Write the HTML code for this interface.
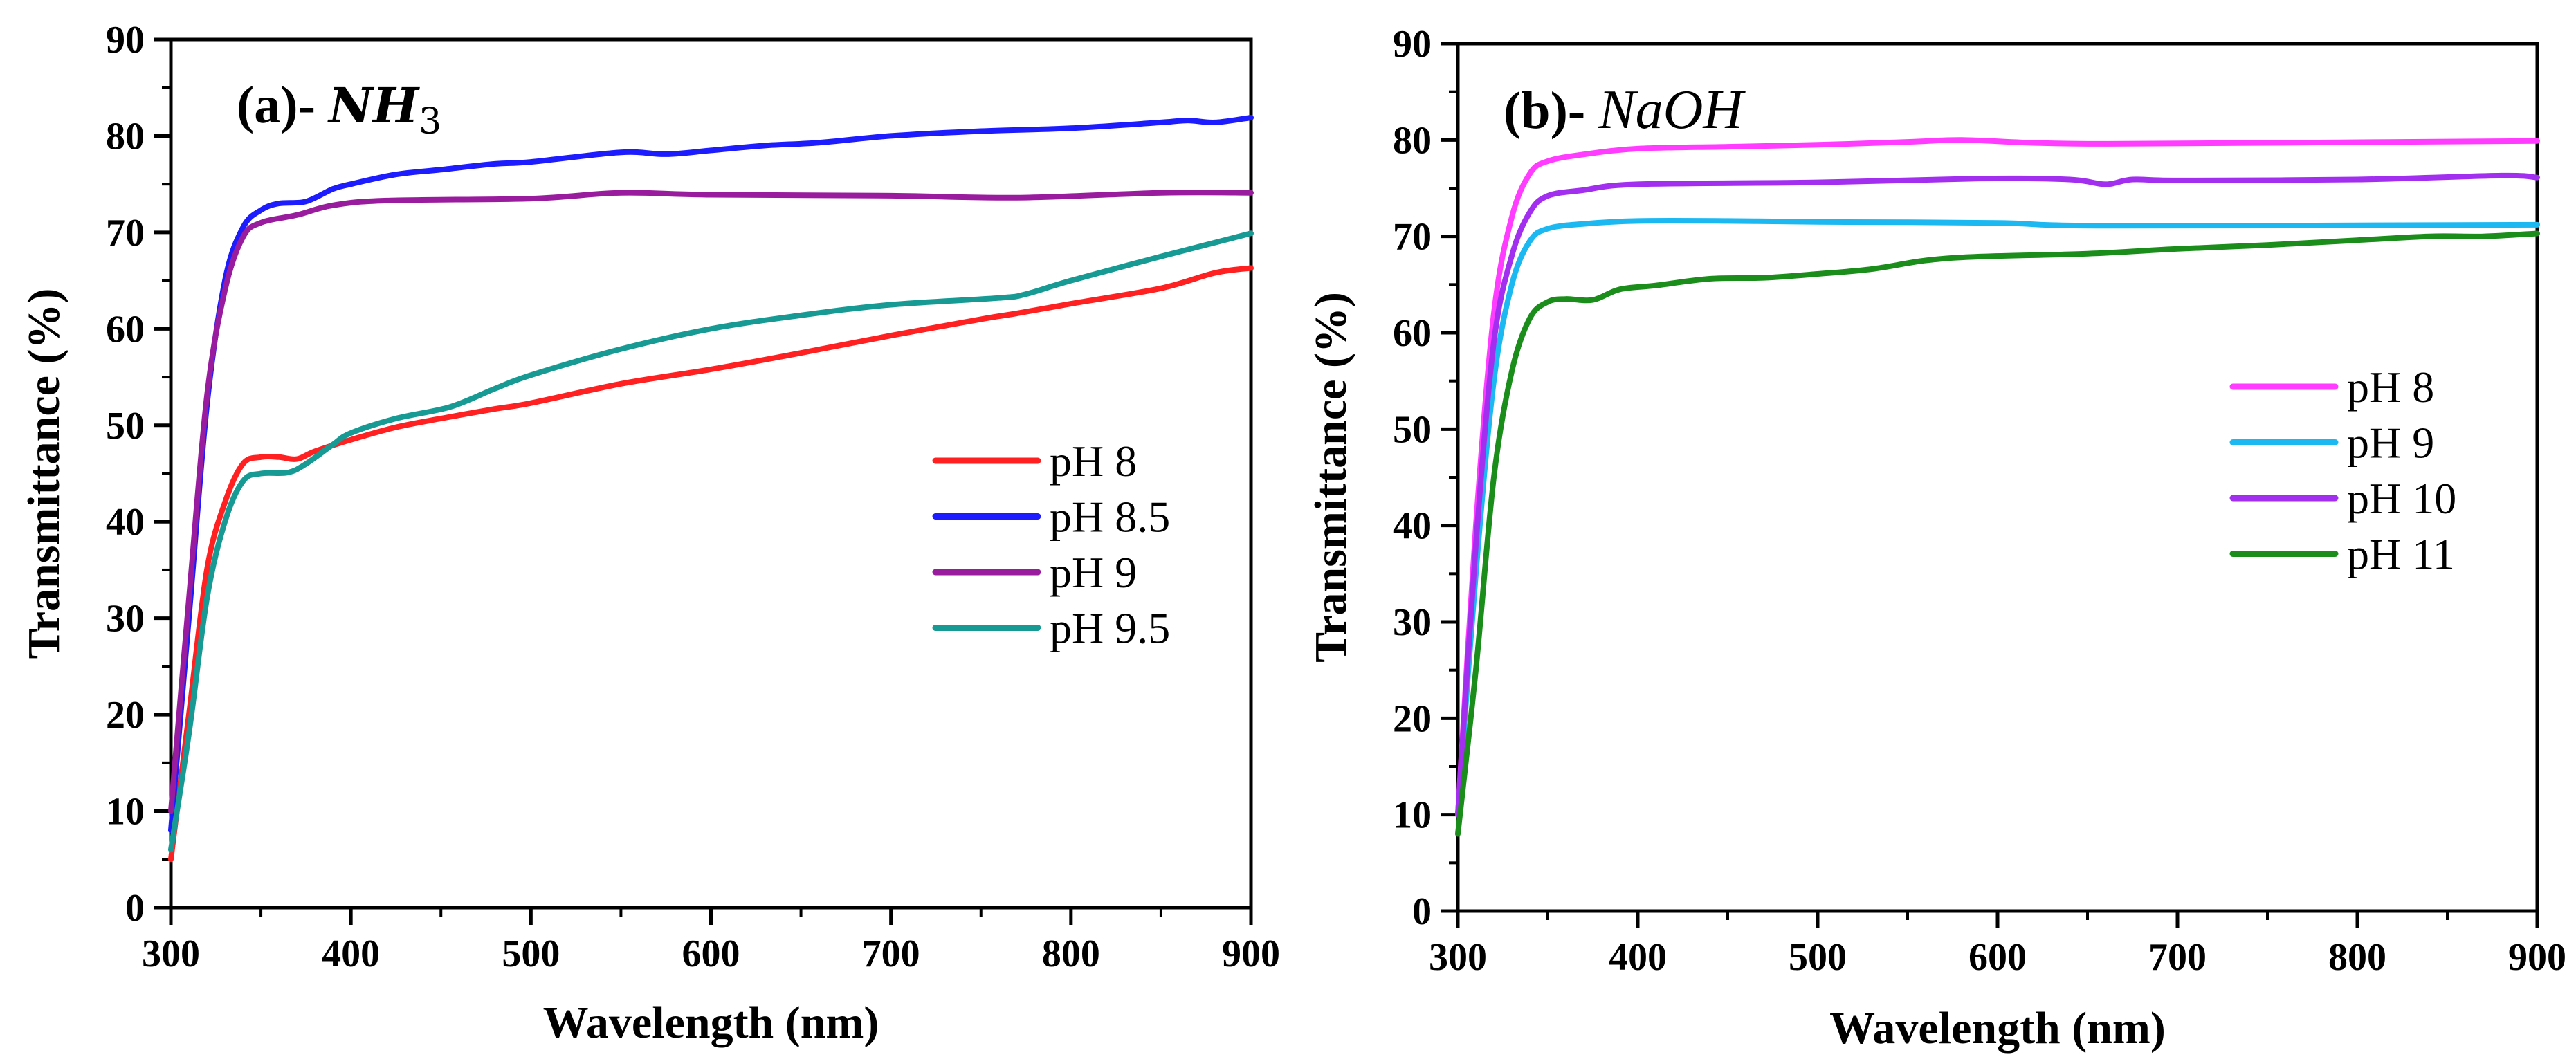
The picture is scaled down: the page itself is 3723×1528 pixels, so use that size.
<!DOCTYPE html>
<html><head><meta charset="utf-8">
<style>
html,body{margin:0;padding:0;background:#fff;}
svg{display:block;}
text{font-family:"Liberation Serif",serif;fill:#000;}
</style></head>
<body>
<svg id="fig" width="3723" height="1528" viewBox="0 0 3723 1528" xmlns="http://www.w3.org/2000/svg"></svg>
<script>
// ----- data: panel (a) NH3 -----
const aWavelength8 = [300,310,320,330,340,350,360,370,380,400,425,450,480,500,550,600,650,700,750,770,800,850,880,900];
const aPH8 = [5,20,35,42,46,46.7,46.7,46.5,47.3,48.5,49.8,50.7,51.7,52.3,54.3,55.8,57.5,59.3,61,61.6,62.6,64.2,65.8,66.3];
const aWavelength85 = [300,310,320,330,340,350,360,375,390,400,425,450,480,500,550,575,600,630,660,700,750,800,850,865,880,900];
const aPH85 = [8,30,52,65,70.5,72.3,73,73.2,74.5,75,76,76.5,77.1,77.3,78.3,78.1,78.5,79,79.3,80,80.5,80.8,81.4,81.6,81.4,81.9];
const aWavelength9 = [300,310,320,330,340,350,370,390,420,500,550,600,700,770,850,900];
const aPH9 = [10,32,53,64,69.5,71,71.8,72.8,73.3,73.5,74.1,73.9,73.8,73.6,74.1,74.1];
const aWavelength95 = [300,310,320,330,340,350,365,375,390,400,425,455,480,500,550,600,650,700,760,775,800,850,900];
const aPH95 = [6,18,32,40,44.2,45,45.1,46,48,49.2,50.7,51.9,53.8,55.2,57.9,60,61.4,62.5,63.2,63.6,65,67.5,69.9];
// ----- data: panel (b) NaOH -----
const bWavelength8 = [300,310,320,330,340,350,370,400,450,500,550,580,620,660,750,900];
const bPH8 = [10,40,62,72,76.5,77.8,78.5,79.1,79.3,79.5,79.8,80,79.7,79.6,79.7,79.9];
const bWavelength9 = [300,310,320,330,340,350,370,400,450,500,600,660,900];
const bPH9 = [10,35,55,65,69.5,70.8,71.3,71.6,71.6,71.5,71.4,71.1,71.2];
const bWavelength10 = [300,310,320,330,340,350,370,400,500,590,640,660,675,700,800,880,900];
const bPH10 = [10,38,59,68,72.5,74.2,74.8,75.4,75.6,76,75.9,75.4,75.9,75.8,75.9,76.3,76.1];
const bWavelength11 = [300,310,320,330,340,350,360,375,390,410,440,470,500,530,560,590,650,700,750,800,840,870,900];
const bPH11 = [8,25,45,56,61.5,63.2,63.5,63.4,64.5,64.9,65.6,65.7,66.1,66.6,67.5,67.9,68.2,68.7,69.1,69.6,70,70,70.3];
const xTicks = [300,400,500,600,700,800,900];
const yTicks = [0,10,20,30,40,50,60,70,80,90];
const aLabels = ["pH 8","pH 8.5","pH 9","pH 9.5"];
const bLabels = ["pH 8","pH 9","pH 10","pH 11"];

const NS = "http://www.w3.org/2000/svg";
const svg = document.getElementById("fig");
function mk(tag, attrs, parent){
  const e = document.createElementNS(NS, tag);
  for (const k in attrs) e.setAttribute(k, attrs[k]);
  (parent||svg).appendChild(e);
  return e;
}
function smoothPath(pts){
  let d = "M" + pts[0][0].toFixed(1) + "," + pts[0][1].toFixed(1);
  for (let i = 0; i < pts.length-1; i++){
    const p0 = pts[Math.max(0,i-1)], p1 = pts[i], p2 = pts[i+1], p3 = pts[Math.min(pts.length-1,i+2)];
    const c1x = p1[0] + (p2[0]-p0[0])/6, c1y = p1[1] + (p2[1]-p0[1])/6;
    const c2x = p2[0] - (p3[0]-p1[0])/6, c2y = p2[1] - (p3[1]-p1[1])/6;
    d += "C" + c1x.toFixed(1) + "," + c1y.toFixed(1) + " " + c2x.toFixed(1) + "," + c2y.toFixed(1) + " " + p2[0].toFixed(1) + "," + p2[1].toFixed(1);
  }
  return d;
}
function panel(cfg){
  const g = mk("g", {});
  
  
  const X = v => cfg.x0 + (v-300)/(600)*(cfg.x1-cfg.x0);
  const Y = v => cfg.y0 - v/90*(cfg.y0-cfg.y1);
  const fr = mk("rect", {x:cfg.x0, y:cfg.y1, width:cfg.x1-cfg.x0, height:cfg.y0-cfg.y1, fill:"none", stroke:"#000", "stroke-width":5}, g);
  
  
  xTicks.forEach(t => {
    mk("line", {x1:X(t), x2:X(t), y1:cfg.y0, y2:cfg.y0+25, stroke:"#000", "stroke-width":5}, g);
    if (t < 900) mk("line", {x1:X(t+50), x2:X(t+50), y1:cfg.y0, y2:cfg.y0+13, stroke:"#000", "stroke-width":4}, g);
    const tx = mk("text", {x:X(t), y:cfg.y0+85, "font-size":56, "font-weight":"bold", "text-anchor":"middle"}, g);
    tx.textContent = t;
    
    
  });
  yTicks.forEach(t => {
    mk("line", {x1:cfg.x0-25, x2:cfg.x0, y1:Y(t), y2:Y(t), stroke:"#000", "stroke-width":5}, g);
    if (t < 90) mk("line", {x1:cfg.x0-13, x2:cfg.x0, y1:Y(t+5), y2:Y(t+5), stroke:"#000", "stroke-width":4}, g);
    const ty = mk("text", {x:cfg.x0-38, y:Y(t)+19, "font-size":56, "font-weight":"bold", "text-anchor":"end"}, g);
    ty.textContent = t;
    
    
  });
  const xt = mk("text", {x:(cfg.x0+cfg.x1)/2, y:cfg.xTitleY, "font-size":66, "font-weight":"bold", "text-anchor":"middle"}, g);
  xt.textContent = "Wavelength (nm)";
  
  
  const yt = mk("text", {x:0, y:0, "font-size":66, "font-weight":"bold", "text-anchor":"middle", transform:`translate(${cfg.yTitleX},${(cfg.y0+cfg.y1)/2}) rotate(-90)`}, g);
  yt.textContent = "Transmittance (%)";
  
  
  cfg.series.forEach((s, i) => {
    const pts = s.xs.map((x, j) => [X(x), Y(s.ys[j])]);
    const p = mk("path", {d:smoothPath(pts), fill:"none", stroke:s.color, "stroke-width":8, "stroke-linejoin":"round", "stroke-linecap":"round"}, g);
    
    
    const ly = cfg.legY + i*cfg.legDy;
    const ll = mk("line", {x1:cfg.legX, x2:cfg.legX+148, y1:ly, y2:ly, stroke:s.color, "stroke-width":9, "stroke-linecap":"round"}, g);
    
    
    const lt = mk("text", {x:cfg.legX+165, y:ly+22, "font-size":64}, g);
    lt.textContent = s.label;
    
    
  });
  const title = mk("text", {x:cfg.titleX, y:cfg.titleY, "font-size":76, "font-weight":"bold"}, g);
  title.innerHTML = cfg.titleHTML;
  
  
}
panel({name:"panel-a-nh3", x0:247, x1:1808, y0:1312, y1:57, xTitleY:1500, yTitleX:85,
  legX:1352, legY:666, legDy:80.5, titleX:342, titleY:177,
  titleHTML:'(a)-  <tspan font-style="italic" font-family="DejaVu Serif, serif" font-size="70">NH</tspan><tspan font-family="DejaVu Serif, serif" font-weight="normal" font-size="52" dy="16">3</tspan>',
  series:[
    {key:"ph8", label:aLabels[0], color:"#ff2121", xs:aWavelength8, ys:aPH8},
    {key:"ph8-5", label:aLabels[1], color:"#1c1cff", xs:aWavelength85, ys:aPH85},
    {key:"ph9", label:aLabels[2], color:"#9a1c9e", xs:aWavelength9, ys:aPH9},
    {key:"ph9-5", label:aLabels[3], color:"#189a94", xs:aWavelength95, ys:aPH95}
  ]});
panel({name:"panel-b-naoh", x0:2107, x1:3667, y0:1317, y1:63, xTitleY:1508, yTitleX:1945,
  legX:3227, legY:559, legDy:80.5, titleX:2173, titleY:185,
  titleHTML:'(b)- <tspan font-style="italic" font-weight="normal" font-size="80">NaOH</tspan>',
  series:[
    {key:"ph8", label:bLabels[0], color:"#ff3cff", xs:bWavelength8, ys:bPH8},
    {key:"ph9", label:bLabels[1], color:"#1cb8f2", xs:bWavelength9, ys:bPH9},
    {key:"ph10", label:bLabels[2], color:"#a22ff0", xs:bWavelength10, ys:bPH10},
    {key:"ph11", label:bLabels[3], color:"#1a8d1a", xs:bWavelength11, ys:bPH11}
  ]});
</script>
</body></html>
